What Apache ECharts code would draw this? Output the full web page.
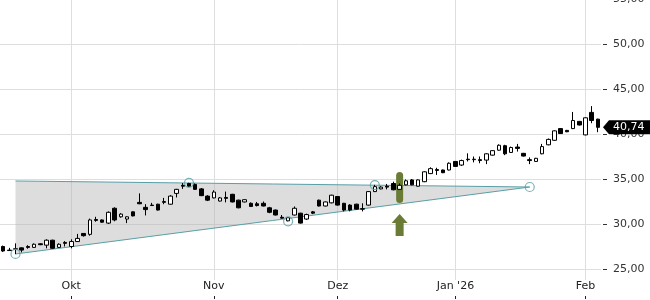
<!DOCTYPE html>
<html><head><meta charset="utf-8">
<script src="https://cdn.jsdelivr.net/npm/echarts@6/dist/echarts.min.js"></script>
<style>html,body{margin:0;padding:0;background:#fff}#c{width:650px;height:300px}</style>
</head><body><div id="c"></div>
<script>
const dates = [
'2025-09-16','2025-09-17','2025-09-18','2025-09-19','2025-09-22','2025-09-23','2025-09-24','2025-09-25','2025-09-26','2025-09-29','2025-09-30',
'2025-10-01','2025-10-02','2025-10-03','2025-10-06','2025-10-07','2025-10-08','2025-10-09','2025-10-10','2025-10-13','2025-10-14','2025-10-15','2025-10-16','2025-10-17','2025-10-20','2025-10-21','2025-10-22','2025-10-23','2025-10-24','2025-10-27','2025-10-28','2025-10-29','2025-10-30','2025-10-31',
'2025-11-03','2025-11-04','2025-11-05','2025-11-06','2025-11-07','2025-11-10','2025-11-11','2025-11-12','2025-11-13','2025-11-14','2025-11-17','2025-11-18','2025-11-19','2025-11-20','2025-11-21','2025-11-24','2025-11-25','2025-11-26','2025-11-27','2025-11-28',
'2025-12-01','2025-12-02','2025-12-03','2025-12-04','2025-12-05','2025-12-08','2025-12-09','2025-12-10','2025-12-11','2025-12-12','2025-12-15','2025-12-16','2025-12-17','2025-12-18','2025-12-19','2025-12-22','2025-12-23','2025-12-29','2025-12-30',
'2026-01-02','2026-01-05','2026-01-06','2026-01-07','2026-01-08','2026-01-09','2026-01-12','2026-01-13','2026-01-14','2026-01-15','2026-01-16','2026-01-19','2026-01-20','2026-01-21','2026-01-22','2026-01-23','2026-01-26','2026-01-27','2026-01-28','2026-01-29','2026-01-30',
'2026-02-02','2026-02-03','2026-02-04'];

const open = [27.5,27.1,27.2,27.35,27.5,27.4,27.8,27.65,28.2,27.4,27.95,
27.5,28.05,28.95,28.85,30.5,30.45,30.1,31.75,30.8,30.55,31.35,32.4,31.85,32.1,32.2,32.4,32.2,33.4,34.3,34.5,34.4,33.9,33.1,
32.9,32.55,32.95,33.3,32.65,32.45,32.3,32.25,32.3,31.8,31.55,30.75,30.35,31.0,31.2,30.55,31.35,32.65,32.0,32.35,
33.05,32.3,32.1,32.2,31.7,32.1,33.6,33.9,34.2,34.5,33.85,34.35,34.9,34.2,34.7,35.6,36.05,36.0,36.0,
36.95,36.55,37.2,37.15,37.15,37.1,37.65,38.2,38.7,37.95,38.55,37.85,37.15,36.95,37.8,38.8,39.3,40.6,40.4,40.6,41.4,
39.9,42.4,41.65];
const close = [27.0,27.05,27.25,27.1,27.4,27.75,27.7,28.2,27.3,27.75,27.85,
28.05,28.4,28.7,30.45,30.4,30.2,31.3,30.45,31.1,30.8,30.9,32.25,31.6,32.05,31.55,32.5,33.1,33.85,34.2,34.2,33.85,33.15,32.65,
33.55,32.9,32.85,32.45,31.8,32.7,31.95,32.05,32.0,31.3,31.0,30.65,30.7,31.75,30.1,31.05,31.2,32.0,32.45,33.2,
32.1,31.55,31.55,31.65,31.65,33.6,34.15,34.1,34.1,33.8,34.3,34.8,34.35,34.9,35.8,36.15,35.95,35.7,36.75,
36.4,37.05,37.15,37.2,37.05,37.8,38.15,38.75,37.8,38.5,38.4,37.55,37.05,37.3,38.6,39.4,40.35,40.05,40.25,41.5,41.0,
41.8,41.5,40.74];
const low = [26.9,27.0,26.65,26.85,27.25,27.35,27.65,27.3,27.25,27.35,27.5,
27.3,28.0,28.6,28.7,30.25,30.15,30.0,30.3,30.7,30.1,30.85,32.2,30.95,32.0,31.5,32.2,32.15,32.95,33.9,34.1,33.8,33.1,32.55,
32.85,32.5,32.4,32.4,31.75,32.4,31.9,31.95,31.95,31.2,30.95,30.6,30.3,30.95,30.05,30.45,31.1,31.95,31.95,32.3,
32.05,31.4,31.4,31.6,31.4,32.05,33.55,33.85,33.85,33.75,33.8,34.3,34.3,34.15,34.65,35.55,35.45,35.65,35.95,
36.35,36.45,36.95,36.85,36.75,36.65,37.6,38.15,37.65,37.9,38.05,37.5,36.65,36.9,37.75,38.75,39.25,40.0,40.2,40.55,40.95,
39.85,41.2,40.2];
const high = [27.6,27.35,27.85,27.4,27.65,27.85,27.85,28.3,28.25,27.85,28.1,
28.3,28.9,29.0,30.6,30.8,30.5,31.4,31.85,31.2,30.85,31.4,33.4,32.2,32.35,32.25,32.9,33.2,33.9,34.55,34.58,34.5,34.0,33.2,
33.75,33.0,33.6,33.35,32.7,32.75,32.4,32.45,32.5,31.9,31.6,31.0,30.75,31.95,31.25,31.15,31.45,32.7,32.5,33.25,
33.1,32.35,32.2,32.25,32.3,33.65,34.35,34.2,34.45,34.7,34.5,34.95,35.0,34.95,35.85,36.3,36.25,36.05,36.85,
37.0,37.15,37.85,37.5,37.5,37.85,38.2,38.85,38.8,38.6,38.9,37.9,37.4,37.35,38.9,39.5,40.4,40.65,40.45,42.45,41.45,
41.85,43.1,41.7];

// month tick labels
const tickDates = ['2025-10-01','2025-11-03','2025-12-01','2026-01-02','2026-02-02'];
const tickLabels = ['Okt','Nov','Dez',"Jan '26",'Feb'];

// triangle pattern (dates and price levels)
const patternDates = ['2025-09-18','2026-01-20'];
const patternUpper = [34.78, 34.11];
const patternLower = [26.67, 34.11];
const pivotDates = ['2025-09-18','2025-10-28','2025-11-19','2025-12-09','2026-01-20'];
const pivotValues = [26.67, 34.58, 30.3, 34.33, 34.11];

// breakout signal
const signalDates = ['2025-12-15'];
const signalBarRange = [[32.33, 35.78]];
const signalArrowRange = [[28.67, 31.1]];

const TEAL = '#5a9fa6';
const OLIVE = '#6a7b36';
const FONT = 'DejaVu Sans';
const idx = d => dates.indexOf(d);
const isTick = (i) => tickDates.indexOf(dates[i]) >= 0;
const fmt = v => v.toFixed(2).replace('.', ',');

const chart = echarts.init(document.getElementById('c'), null, {renderer: 'canvas'});

const candleData = dates.map((d, i) => [open[i], close[i], low[i], high[i]]);

const iL = idx(patternDates[0]), iA = idx(patternDates[1]);

chart.setOption({
  animation: false,
  backgroundColor: '#fff',
  grid: {left: 0, right: 49, top: -1, bottom: 31, containLabel: false, outerBoundsMode: 'none'},
  xAxis: [
    {
      type: 'category', data: dates, position: 'bottom', boundaryGap: true,
      axisLine: {show: false, onZero: false},
      axisTick: {show: true, alignWithLabel: true, length: 11, interval: (i) => isTick(i), lineStyle: {color: '#dedede'}},
      axisLabel: {interval: (i) => isTick(i), margin: 12, color: '#222', fontFamily: FONT, fontSize: 11,
        formatter: (v) => { const k = tickDates.indexOf(v); return k >= 0 ? tickLabels[k] : ''; }},
      splitLine: {show: true, alignWithLabel: true, interval: (i) => isTick(i), lineStyle: {color: '#dedede', width: 1}}
    },
    {
      type: 'category', data: dates, position: 'bottom', offset: 27, boundaryGap: true,
      axisLine: {show: false, onZero: false},
      axisTick: {show: true, alignWithLabel: true, length: 3, interval: (i) => isTick(i), lineStyle: {color: '#222'}},
      axisLabel: {show: false}, splitLine: {show: false}
    },
    {
      type: 'value', min: -0.5, max: dates.length - 0.5, show: false, position: 'top',
      axisLine: {show: false, onZero: false}
    }
  ],
  yAxis: {
    type: 'value', position: 'right', min: 25, max: 55, interval: 5, offset: 2,
    axisLine: {show: false, onZero: false},
    axisTick: {show: true, length: 4, lineStyle: {color: '#333'}},
    axisLabel: {margin: 10, color: '#333', fontFamily: FONT, fontSize: 11, formatter: fmt},
    splitLine: {show: true, lineStyle: {color: '#dedede', width: 1}}
  },
  series: [
    {
      type: 'custom', xAxisIndex: 2, z: 1, silent: true,
      data: [[iL, patternUpper[0], iA, patternUpper[1], iL, patternLower[0]]],
      dimensions: ['a','b','c','d','e','f'],
      encode: {x: [0, 2, 4], y: [1, 3, 5]},
      renderItem: (params, api) => {
        const p1 = api.coord([api.value(0), api.value(1)]);
        const p2 = api.coord([api.value(2), api.value(3)]);
        const p3 = api.coord([api.value(4), api.value(5)]);
        return {type: 'polygon', shape: {points: [p1, p2, p3]}, style: {fill: 'rgba(175,175,175,0.42)'}};
      }
    },
    {
      type: 'line', xAxisIndex: 2, z: 2, symbol: 'none', silent: true,
      data: patternDates.map((d, k) => [idx(d), patternUpper[k]]),
      lineStyle: {color: TEAL, width: 1}
    },
    {
      type: 'line', xAxisIndex: 2, z: 2, symbol: 'none', silent: true,
      data: patternDates.map((d, k) => [idx(d), patternLower[k]]),
      lineStyle: {color: TEAL, width: 1}
    },
    {
      type: 'scatter', xAxisIndex: 2, z: 6, silent: true,
      data: pivotDates.map((d, k) => [idx(d), pivotValues[k]]),
      symbol: 'circle', symbolSize: 9,
      itemStyle: {color: 'rgba(255,255,255,0)', borderColor: TEAL, borderWidth: 1.2}
    },
    {
      type: 'custom', xAxisIndex: 2, z: 3, silent: true,
      data: signalDates.map((d, k) => [idx(d), signalBarRange[k][0], signalBarRange[k][1]]),
      renderItem: (params, api) => {
        const b = api.coord([api.value(0), api.value(1)]);
        const t = api.coord([api.value(0), api.value(2)]);
        return {type: 'rect', shape: {x: t[0] - 3.5, y: t[1], width: 7, height: b[1] - t[1], r: 3.5}, style: {fill: OLIVE}};
      }
    },
    {
      type: 'custom', xAxisIndex: 2, z: 3, silent: true,
      data: signalDates.map((d, k) => [idx(d), signalArrowRange[k][0], signalArrowRange[k][1]]),
      renderItem: (params, api) => {
        const b = api.coord([api.value(0), api.value(1)]);
        const t = api.coord([api.value(0), api.value(2)]);
        const x = t[0], y = t[1];
        return {type: 'polygon', shape: {points: [[x, y], [x + 8, y + 9], [x + 4, y + 9], [x + 4, b[1]], [x - 4, b[1]], [x - 4, y + 9], [x - 8, y + 9]]}, style: {fill: OLIVE}};
      }
    },
    {
      type: 'candlestick', xAxisIndex: 0, yAxisIndex: 0, z: 5, barWidth: 4,
      data: candleData,
      itemStyle: {color: '#ffffff', color0: '#000000', borderColor: '#000000', borderColor0: '#000000', borderWidth: 1}
    },
    {
      type: 'custom', xAxisIndex: 2, z: 10, silent: true, clip: false,
      data: [[dates.length - 1, close[close.length - 1]]],
      renderItem: (params, api) => {
        const p = api.coord([api.value(0), api.value(1)]);
        const x0 = params.coordSys.x + params.coordSys.width + 2;
        const y = p[1];
        return {type: 'group', children: [
          {type: 'polygon', shape: {points: [[x0, y], [x0 + 6, y - 7], [650, y - 7], [650, y + 7], [x0 + 6, y + 7]]}, style: {fill: '#000'}},
          {type: 'text', style: {x: x0 + 10, y: y, text: fmt(api.value(1)), fill: '#fff', font: '11px "DejaVu Sans"', verticalAlign: 'middle', align: 'left'}}
        ]};
      }
    }
  ]
});
</script></body></html>
